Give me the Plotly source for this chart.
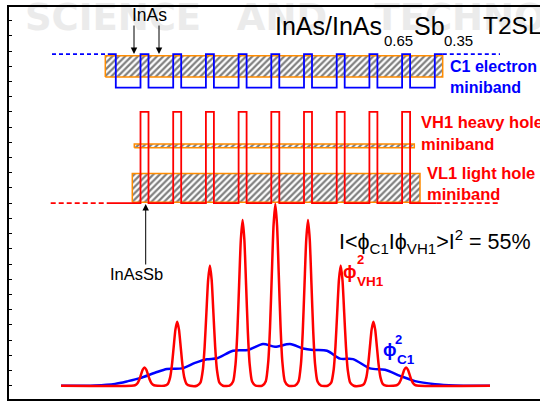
import plotly.graph_objects as go

# ---------------- data ----------------
# position along growth direction (nm); energy and |phi|^2 in arbitrary units
insb_centers = [20.56, 27.10, 33.64, 40.18, 46.72, 53.26, 59.80, 66.34, 72.88, 79.42, 85.96]
insb_width = 1.6
c1_well, c1_barrier = 19.6, 21.8
vb_low, vb_high = 12.0, 18.0
c1_dash_left = [8.6, 19.76]
c1_dash_right = [86.76, 98.2]
vb_solid = [20.2, 85.54]
vb_dash_left = [8.34, 20.2]
vb_dash_right = [85.54, 97.8]

band_names = ["C1", "VH1", "VL1"]
band_x0 = [19.26, 25.06, 24.66]
band_x1 = [86.74, 81.06, 82.20]
band_y0 = [20.30, 15.65, 12.06]
band_y1 = [21.70, 15.90, 13.96]

vh1_peak_heights = [1.2, 4.2, 7.9, 10.9, 11.95, 10.9, 7.9, 4.2, 1.2]
peak_offsets = [-2.6, -1.9, -1.4, -1.05, -0.7, -0.35, 0.0, 0.35, 0.7, 1.05, 1.4, 1.9, 2.6]
peak_shape = [0.0, 0.025, 0.135, 0.325, 0.607, 0.882, 1.0, 0.882, 0.607, 0.325, 0.135, 0.025, 0.0]
wf_span = [10.4, 96.2]

c1_wf_x = [10.4, 17.2, 21.2, 23.8, 26.2, 29.2, 31.6, 34.6, 37.2, 39.6, 41.6, 44.8, 47.8, 50.8,
           53.2, 56.2, 58.8, 60.8, 63.6, 66.2, 68.8, 72.2, 75.2, 78.2, 81.2, 85.2, 89.2, 96.2]
c1_wf_y = [0.0, 0.02, 0.12, 0.3, 0.5, 0.85, 1.1, 1.14, 1.5, 1.74, 1.8, 2.3, 2.35, 2.74,
           2.56, 2.74, 2.45, 2.35, 2.3, 1.78, 1.75, 1.14, 1.05, 0.65, 0.3, 0.1, 0.02, 0.0]

watermark_words = ["SCIENCE", "AND", "TECHNOLOGY"]

# ---------------- helpers (pixel -> data, for text placement only) ----------------
def X(px):
    return (px - 9) / 5.0

def Y(py):
    return (385.7 - py) / 15.21

FONT = "Liberation Sans, Arial, sans-serif"
BLUE = "#0000FF"
RED = "#FF0000"
ORANGE = "#FF8C00"

fig = go.Figure()

# watermark (behind everything)
fig.add_trace(go.Scatter(
    x=[X(113), X(282), X(515)], y=[Y(21), Y(21), Y(21)],
    text=["<b>" + w + "</b>" for w in watermark_words], mode="text",
    textfont=dict(family="DejaVu Sans", size=37, color="#ebebeb"),
    textposition="middle center", cliponaxis=False, hoverinfo="skip", showlegend=False))

# miniband boxes (hatched)
for x0, x1, y0, y1 in zip(band_x0, band_x1, band_y0, band_y1):
    fig.add_trace(go.Scatter(
        x=[x0, x1, x1, x0, x0], y=[y0, y0, y1, y1, y0], mode="lines",
        fill="toself", fillcolor="white",
        fillpattern=dict(shape="/", fgcolor="black", bgcolor="white", size=4.5, solidity=0.5),
        line=dict(color=ORANGE, width=1.5), hoverinfo="skip", showlegend=False))

# conduction-band profile (blue)
cb_x, cb_y = [], []
n = len(insb_centers)
for i, c in enumerate(insb_centers):
    L, R = c - insb_width / 2, c + insb_width / 2
    if i > 0:
        cb_x.append(L); cb_y.append(c1_well)
    cb_x += [L, R]; cb_y += [c1_barrier, c1_barrier]
    if i < n - 1:
        cb_x.append(R); cb_y.append(c1_well)
fig.add_trace(go.Scatter(x=cb_x, y=cb_y, mode="lines", line=dict(color=BLUE, width=1.8),
                         hoverinfo="skip", showlegend=False))
for seg in (c1_dash_left, c1_dash_right):
    fig.add_trace(go.Scatter(x=seg, y=[c1_barrier, c1_barrier], mode="lines",
                             line=dict(color=BLUE, width=1.6, dash="4px,3px"),
                             hoverinfo="skip", showlegend=False))

# valence-band profile (red)
vb_x, vb_y = [vb_solid[0]], [vb_low]
for c in insb_centers[1:10]:
    L, R = c - insb_width / 2, c + insb_width / 2
    vb_x += [L, L, R, R]; vb_y += [vb_low, vb_high, vb_high, vb_low]
vb_x.append(vb_solid[1]); vb_y.append(vb_low)
fig.add_trace(go.Scatter(x=vb_x, y=vb_y, mode="lines", line=dict(color=RED, width=1.8),
                         hoverinfo="skip", showlegend=False))
for seg in (vb_dash_left, vb_dash_right):
    fig.add_trace(go.Scatter(x=seg, y=[vb_low, vb_low], mode="lines",
                             line=dict(color=RED, width=1.8, dash="5px,3px"),
                             hoverinfo="skip", showlegend=False))

# wavefunctions
fig.add_trace(go.Scatter(x=c1_wf_x, y=c1_wf_y, mode="lines",
                         line=dict(color=BLUE, width=2.5, shape="spline", smoothing=0.8),
                         hoverinfo="skip", showlegend=False))
vh_x, vh_y = [wf_span[0]], [0.0]
for c, h in zip(insb_centers[1:10], vh1_peak_heights):
    for o, f in zip(peak_offsets, peak_shape):
        vh_x.append(c + o); vh_y.append(h * f)
vh_x.append(wf_span[1]); vh_y.append(0.0)
fig.add_trace(go.Scatter(x=vh_x, y=vh_y, mode="lines",
                         line=dict(color=RED, width=2.5, shape="spline", smoothing=0.6),
                         hoverinfo="skip", showlegend=False))

# ---------------- annotations ----------------
anns = []

def txt(text, px, py, size, color="black", bold=False, xanchor="left", yanchor="middle"):
    if bold:
        text = "<b>" + text + "</b>"
    anns.append(dict(x=X(px), y=Y(py), xref="x", yref="y", text=text, showarrow=False,
                     xanchor=xanchor, yanchor=yanchor,
                     font=dict(family=FONT, size=size, color=color)))

def arrow(px0, py0, px1, py1):
    anns.append(dict(x=X(px1), y=Y(py1), ax=X(px0), ay=Y(py0), xref="x", yref="y",
                     axref="x", ayref="y", text="", showarrow=True, arrowhead=2,
                     arrowsize=1.3, arrowwidth=1, arrowcolor="black", standoff=0))

# title
txt("InAs/InAs", 273, 25.5, 25)
txt("0.65", 381.5, 40, 15)
txt("Sb", 411.5, 25.5, 25)
txt("0.35", 442, 40, 15)
txt("T2SL", 481, 25.5, 24.5)

# InAs label + arrows
txt("InAs", 149, 15, 17.5, xanchor="center")
arrow(134, 24, 134, 54)
arrow(159, 24, 159, 54)

# InAsSb label + arrow
txt("InAsSb", 136.7, 274, 16.5, xanchor="center")
arrow(145.7, 266, 145.7, 204)

# miniband labels
txt("C1 electron", 448, 66.5, 16, BLUE, bold=True)
txt("miniband", 448, 87, 16, BLUE, bold=True)
txt("VH1 heavy hole", 418.5, 122, 16.5, RED, bold=True)
txt("miniband", 418.5, 144, 16.5, RED, bold=True)
txt("VL1 light hole", 424.5, 172.5, 16.5, RED, bold=True)
txt("miniband", 424.5, 194, 16.5, RED, bold=True)

# overlap formula
txt("I&lt;ϕ<sub>C1</sub>Iϕ<sub>VH1</sub>&gt;I<sup>2</sup> = 55%", 336.7, 241, 21.5)

# phi labels
txt("ϕ", 350, 271.5, 18, RED, bold=True, xanchor="center")
txt("2", 360.5, 259.5, 13, RED, bold=True, xanchor="center")
txt("VH1", 355, 281, 13.5, RED, bold=True)
txt("ϕ", 390, 350, 18, BLUE, bold=True, xanchor="center")
txt("2", 398.5, 339, 13, BLUE, bold=True, xanchor="center")
txt("C1", 395, 359, 13.5, BLUE, bold=True)

fig.update_layout(
    width=540, height=401,
    margin=dict(l=9, r=0, t=7, b=2),
    paper_bgcolor="white", plot_bgcolor="white",
    showlegend=False,
    annotations=anns,
    xaxis=dict(range=[0, 106.2], showline=True, linewidth=2, linecolor="black", mirror=True,
               ticks="", showticklabels=False, showgrid=False, zeroline=False),
    yaxis=dict(range=[-0.874, 24.9], showline=True, linewidth=2, linecolor="black", mirror=False,
               ticks="inside", ticklen=3, tickwidth=1, tickcolor="black",
               tickvals=list(range(0, 25)), showticklabels=False, showgrid=False, zeroline=False),
)

fig.write_html("out.html")
